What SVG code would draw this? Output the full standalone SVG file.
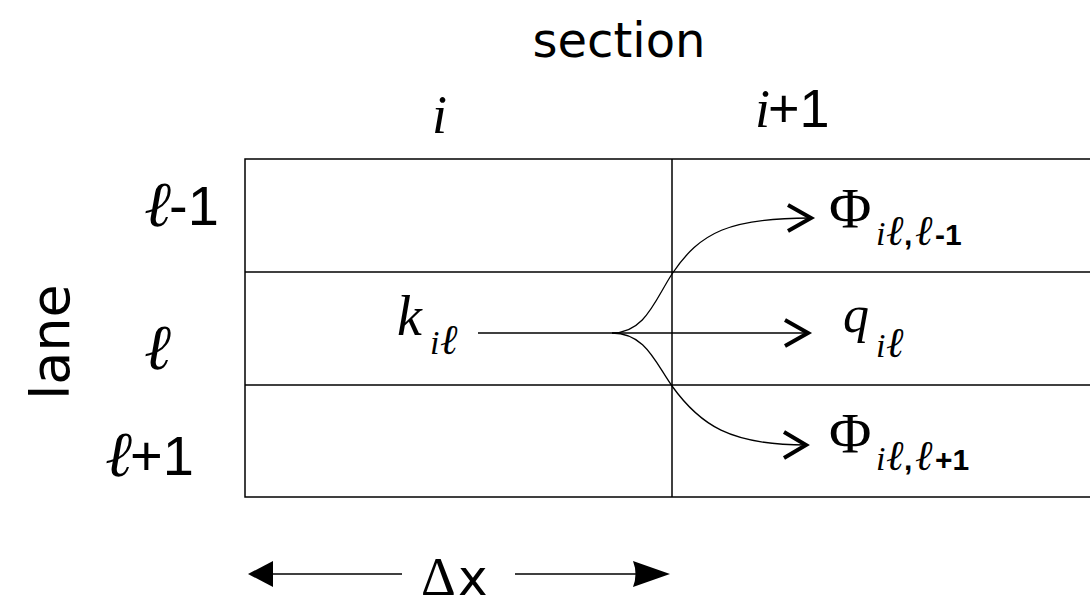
<svg xmlns="http://www.w3.org/2000/svg" width="1090" height="605" viewBox="0 0 1090 605">
<style>
.grid{fill:none;stroke:#000;stroke-width:1.5}
.conn{fill:none;stroke:#000;stroke-width:1.3}
.chev{fill:none;stroke:#000;stroke-width:4;stroke-linecap:butt;stroke-linejoin:miter}
.math{font-family:"Liberation Serif",serif;font-style:italic;fill:#000}
.up{font-family:"Liberation Serif",serif;font-style:normal;fill:#000}
.num{font-family:"Liberation Sans",sans-serif;fill:#000}
.bnum{font-family:"Liberation Sans",sans-serif;font-weight:bold;fill:#000}
.comic{font-family:"DejaVu Sans",sans-serif;fill:#000}
</style>
<g id="grid">
<rect class="grid" x="245" y="159" width="850" height="338"/>
<line class="grid" x1="245" y1="272" x2="1090" y2="272"/>
<line class="grid" x1="245" y1="385" x2="1090" y2="385"/>
<line class="grid" x1="672" y1="159" x2="672" y2="497"/>
</g>
<g id="title">
<text class="comic" x="619" y="57" font-size="48" text-anchor="middle">section</text>
<text class="comic" x="0" y="0" font-size="54" text-anchor="middle" transform="translate(69,342) rotate(-90)">lane</text>
</g>
<g id="col-labels">
<text class="math" x="432" y="133" font-size="54">i</text>
<text class="math" x="755" y="127" font-size="54">i</text>
<text class="num" x="768" y="127" font-size="54">+1</text>
</g>
<g id="row-labels">
<text class="math" x="144" y="226" font-size="64">ℓ</text>
<text class="num" x="169" y="225" font-size="56">-1</text>
<text class="math" x="144" y="369" font-size="64">ℓ</text>
<text class="math" x="105" y="476" font-size="64">ℓ</text>
<text class="num" x="130" y="475" font-size="56">+1</text>
</g>
<g id="k-node">
<text class="math" x="397" y="335" font-size="56">k</text>
<text class="math" x="430" y="354" font-size="34">i</text>
<text class="math" x="440" y="354" font-size="42">ℓ</text>
</g>
<g id="phi-up">
<text class="up" x="829" y="228" font-size="58">Φ</text>
<text class="math" x="876" y="245" font-size="34">i</text>
<text class="math" x="886" y="245" font-size="42">ℓ</text>
<text class="bnum" x="904" y="245" font-size="30">,</text>
<text class="math" x="915" y="245" font-size="42">ℓ</text>
<text class="bnum" x="935" y="245" font-size="30">-1</text>
</g>
<g id="q-node">
<text class="math" x="843" y="332" font-size="52">q</text>
<text class="math" x="876" y="357" font-size="34">i</text>
<text class="math" x="886" y="357" font-size="42">ℓ</text>
</g>
<g id="phi-down">
<text class="up" x="829" y="453" font-size="58">Φ</text>
<text class="math" x="876" y="470" font-size="34">i</text>
<text class="math" x="886" y="470" font-size="42">ℓ</text>
<text class="bnum" x="904" y="470" font-size="30">,</text>
<text class="math" x="915" y="470" font-size="42">ℓ</text>
<text class="bnum" x="935" y="470" font-size="30">+1</text>
</g>
<g id="connectors">
<line class="conn" x1="478" y1="333" x2="808" y2="333"/>
<path class="conn" d="M612,333 C645,333 655,300 672,274 C700,232 730,218 810,218"/>
<path class="conn" d="M612,333 C645,333 655,362 672,386 C700,425 730,445 806,445"/>
<polyline class="chev" points="788,205 811,218 788,231"/>
<polyline class="chev" points="785,320 808,333 785,346"/>
<polyline class="chev" points="784,432 806,445 784,458"/>
</g>
<g id="dx">
<line x1="270" y1="574" x2="402" y2="574" stroke="#000" stroke-width="1.5"/>
<path d="M248,574 L273,561 L273,587 Z" fill="#000"/>
<line x1="515" y1="574" x2="640" y2="574" stroke="#000" stroke-width="1.5"/>
<path d="M670,574 L633,561 Q638,574 633,587 Z" fill="#000"/>
<text class="up" x="421" y="595" font-size="54">Δ</text>
<text class="comic" x="458" y="595" font-size="50">x</text>
</g>
</svg>
